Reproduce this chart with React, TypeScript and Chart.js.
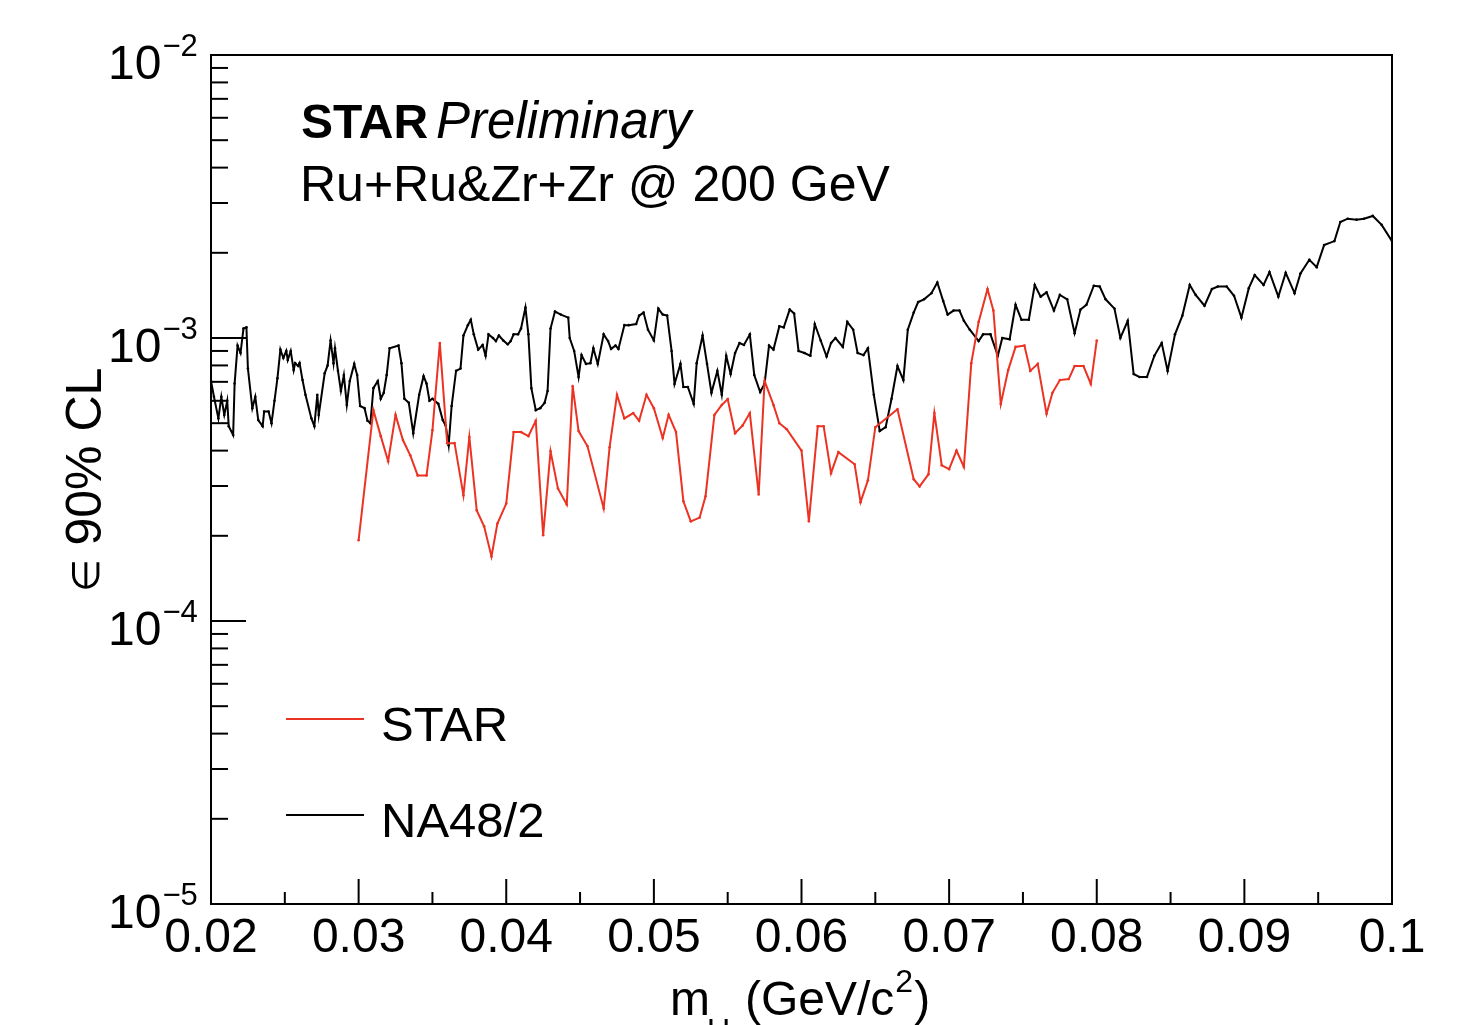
import React, { useEffect, useRef } from 'react';
import { Chart, registerables } from 'chart.js';

Chart.register(...registerables);

// ---------------- data ----------------
const na48Mass = [
  0.0200,0.0202,0.0205,0.0207,0.0209,0.0211,0.0212,0.0215,0.0216,0.0218,
  0.0220,0.0222,0.0224,0.0225,0.0228,0.0230,0.0232,0.0235,0.0236,0.0239,
  0.0241,0.0243,0.0245,0.0247,0.0249,0.0251,0.0252,0.0254,0.0256,0.0257,
  0.0259,0.0260,0.0262,0.0264,0.0268,0.0270,0.0272,0.0273,0.0277,0.0279,
  0.0281,0.0283,0.0284,0.0286,0.0288,0.0290,0.0292,0.0294,0.0297,0.0299,
  0.0301,0.0304,0.0306,0.0308,0.0310,0.0313,0.0315,0.0317,0.0319,0.0321,
  0.0327,0.0329,0.0331,0.0334,0.0337,0.0341,0.0344,0.0346,0.0348,0.0350,
  0.0354,0.0357,0.0359,0.0361,0.0363,0.0366,0.0369,0.0371,0.0374,0.0376,
  0.0378,0.0381,0.0384,0.0386,0.0388,0.0391,0.0393,0.0395,0.0398,0.0401,
  0.0403,0.0405,0.0408,0.0410,0.0413,0.0415,0.0417,0.0420,0.0423,0.0426,
  0.0428,0.0430,0.0433,0.0437,0.0442,0.0443,0.0446,0.0449,0.0451,0.0454,
  0.0457,0.0459,0.0462,0.0466,0.0469,0.0471,0.0474,0.0476,0.0480,0.0483,
  0.0488,0.0490,0.0493,0.0496,0.0500,0.0503,0.0506,0.0509,0.0512,0.0514,
  0.0518,0.0520,0.0523,0.0527,0.0529,0.0533,0.0536,0.0539,0.0543,0.0546,
  0.0549,0.0552,0.0555,0.0558,0.0561,0.0565,0.0568,0.0572,0.0575,0.0578,
  0.0581,0.0585,0.0588,0.0592,0.0595,0.0598,0.0602,0.0606,0.0609,0.0613,
  0.0617,0.0620,0.0623,0.0628,0.0631,0.0635,0.0638,0.0642,0.0645,0.0649,
  0.0653,0.0657,0.0661,0.0665,0.0669,0.0672,0.0676,0.0679,0.0683,0.0688,
  0.0692,0.0696,0.0699,0.0703,0.0707,0.0710,0.0714,0.0720,0.0723,0.0728,
  0.0733,0.0736,0.0741,0.0745,0.0749,0.0754,0.0758,0.0762,0.0766,0.0771,
  0.0775,0.0780,0.0785,0.0789,0.0793,0.0798,0.0802,0.0806,0.0812,0.0816,
  0.0821,0.0825,0.0829,0.0834,0.0839,0.0844,0.0848,0.0853,0.0858,0.0863,
  0.0867,0.0873,0.0878,0.0882,0.0888,0.0893,0.0898,0.0903,0.0907,0.0913,
  0.0917,0.0923,0.0928,0.0934,0.0938,0.0944,0.0949,0.0954,0.0961,0.0965,
  0.0970,0.0976,0.0981,0.0987,0.0993,0.1000,
];

const na48Eps = [
  0.705e-3,0.62e-3,0.52e-3,0.62e-3,0.535e-3,0.60e-3,0.488e-3,0.454e-3,0.69e-3,0.94e-3,
  0.885e-3,1.08e-3,1.09e-3,0.78e-3,0.565e-3,0.62e-3,0.513e-3,0.488e-3,0.55e-3,0.55e-3,
  0.50e-3,0.60e-3,0.72e-3,0.91e-3,0.85e-3,0.90e-3,0.836e-3,0.90e-3,0.77e-3,0.815e-3,
  0.796e-3,0.815e-3,0.71e-3,0.63e-3,0.52e-3,0.488e-3,0.63e-3,0.535e-3,0.75e-3,0.80e-3,
  0.98e-3,0.815e-3,0.92e-3,0.765e-3,0.65e-3,0.74e-3,0.58e-3,0.705e-3,0.81e-3,0.74e-3,
  0.575e-3,0.565e-3,0.51e-3,0.50e-3,0.665e-3,0.705e-3,0.61e-3,0.64e-3,0.74e-3,0.92e-3,
  0.94e-3,0.815e-3,0.61e-3,0.59e-3,0.461e-3,0.63e-3,0.733e-3,0.69e-3,0.60e-3,0.61e-3,
  0.585e-3,0.513e-3,0.49e-3,0.418e-3,0.575e-3,0.765e-3,0.78e-3,1.02e-3,1.11e-3,1.16e-3,
  1.03e-3,0.91e-3,0.945e-3,0.865e-3,1.03e-3,1.00e-3,0.975e-3,1.02e-3,0.98e-3,0.95e-3,
  0.975e-3,1.03e-3,1.03e-3,1.08e-3,1.28e-3,1.03e-3,0.665e-3,0.556e-3,0.565e-3,0.59e-3,
  0.65e-3,1.08e-3,1.24e-3,1.21e-3,1.18e-3,1.00e-3,0.90e-3,0.728e-3,0.87e-3,0.81e-3,
  0.815e-3,0.92e-3,0.81e-3,1.03e-3,0.975e-3,0.915e-3,0.94e-3,0.915e-3,1.11e-3,1.11e-3,
  1.12e-3,1.20e-3,1.23e-3,1.07e-3,0.98e-3,1.27e-3,1.21e-3,1.20e-3,0.90e-3,0.688e-3,
  0.81e-3,0.671e-3,0.671e-3,0.585e-3,0.815e-3,1.02e-3,0.81e-3,0.64e-3,0.765e-3,0.63e-3,
  0.865e-3,0.746e-3,0.885e-3,0.96e-3,0.945e-3,1.03e-3,0.74e-3,0.644e-3,0.69e-3,0.94e-3,
  0.91e-3,1.10e-3,1.09e-3,1.26e-3,1.22e-3,0.90e-3,0.885e-3,0.865e-3,1.12e-3,0.98e-3,
  0.86e-3,0.96e-3,1.00e-3,0.93e-3,1.14e-3,1.07e-3,0.885e-3,0.87e-3,0.92e-3,0.63e-3,
  0.469e-3,0.484e-3,0.61e-3,0.796e-3,0.71e-3,1.07e-3,1.23e-3,1.34e-3,1.37e-3,1.44e-3,
  1.57e-3,1.35e-3,1.21e-3,1.25e-3,1.25e-3,1.15e-3,1.07e-3,0.975e-3,1.03e-3,1.03e-3,
  0.865e-3,1.00e-3,0.99e-3,1.31e-3,1.16e-3,1.16e-3,1.54e-3,1.40e-3,1.45e-3,1.25e-3,
  1.42e-3,1.37e-3,1.04e-3,1.26e-3,1.31e-3,1.53e-3,1.52e-3,1.37e-3,1.27e-3,1.00e-3,
  1.15e-3,0.746e-3,0.728e-3,0.728e-3,0.865e-3,0.96e-3,0.765e-3,1.03e-3,1.20e-3,1.54e-3,
  1.42e-3,1.30e-3,1.49e-3,1.52e-3,1.52e-3,1.41e-3,1.18e-3,1.50e-3,1.67e-3,1.54e-3,
  1.71e-3,1.40e-3,1.70e-3,1.44e-3,1.69e-3,1.89e-3,1.78e-3,2.13e-3,2.20e-3,2.57e-3,
  2.64e-3,2.62e-3,2.64e-3,2.70e-3,2.51e-3,2.20e-3,
];

const starMass = [
  0.0300,0.0310,0.0315,0.0320,0.0325,0.0330,0.0335,0.0340,0.0346,0.0350,
  0.0355,0.0360,0.0365,0.0371,0.0375,0.0380,0.0385,0.0390,0.0394,0.0400,
  0.0405,0.0410,0.0415,0.0420,0.0425,0.0430,0.0435,0.0441,0.0445,0.0449,
  0.0455,0.0466,0.0470,0.0475,0.0480,0.0486,0.0490,0.0495,0.0500,0.0506,
  0.0510,0.0515,0.0520,0.0525,0.0531,0.0535,0.0541,0.0546,0.0550,0.0555,
  0.0560,0.0565,0.0571,0.0575,0.0581,0.0585,0.0590,0.0600,0.0605,0.0611,
  0.0615,0.0620,0.0625,0.0636,0.0640,0.0645,0.0650,0.0665,0.0676,0.0680,
  0.0686,0.0690,0.0695,0.0700,0.0705,0.0710,0.0715,0.0720,0.0726,0.0730,
  0.0735,0.0740,0.0745,0.0751,0.0755,0.0760,0.0766,0.0770,0.0775,0.0781,
  0.0785,0.0791,0.0796,0.0800,
];

const starEps = [
  0.193e-3,0.556e-3,0.45e-3,0.367e-3,0.535e-3,0.436e-3,0.385e-3,0.327e-3,0.327e-3,0.472e-3,
  0.96e-3,0.425e-3,0.425e-3,0.278e-3,0.447e-3,0.246e-3,0.216e-3,0.169e-3,0.221e-3,0.26e-3,
  0.465e-3,0.465e-3,0.45e-3,0.51e-3,0.201e-3,0.398e-3,0.294e-3,0.258e-3,0.676e-3,0.469e-3,
  0.415e-3,0.25e-3,0.411e-3,0.63e-3,0.52e-3,0.543e-3,0.51e-3,0.63e-3,0.565e-3,0.443e-3,
  0.535e-3,0.465e-3,0.265e-3,0.225e-3,0.232e-3,0.276e-3,0.535e-3,0.58e-3,0.608e-3,0.461e-3,
  0.49e-3,0.543e-3,0.28e-3,0.705e-3,0.58e-3,0.50e-3,0.476e-3,0.40e-3,0.225e-3,0.488e-3,
  0.488e-3,0.333e-3,0.395e-3,0.358e-3,0.263e-3,0.314e-3,0.484e-3,0.56e-3,0.317e-3,0.299e-3,
  0.33e-3,0.543e-3,0.355e-3,0.344e-3,0.40e-3,0.35e-3,0.815e-3,1.14e-3,1.49e-3,1.25e-3,
  0.585e-3,0.77e-3,0.93e-3,0.94e-3,0.765e-3,0.81e-3,0.54e-3,0.64e-3,0.71e-3,0.716e-3,
  0.796e-3,0.796e-3,0.688e-3,0.98e-3,
];

const xTickValues = [0.02, 0.03, 0.04, 0.05, 0.06, 0.07, 0.08, 0.09, 0.1];
const xTickLabels = ['0.02', '0.03', '0.04', '0.05', '0.06', '0.07', '0.08', '0.09', '0.1'];
const xMinorValues = [0.025, 0.035, 0.045, 0.055, 0.065, 0.075, 0.085, 0.095];
const yDecadeValues = [1e-2, 1e-3, 1e-4, 1e-5];
const yDecadeExponents = ['\u22122', '\u22123', '\u22124', '\u22125'];
const yMinorMultipliers = [2, 3, 4, 5, 6, 7, 8, 9];

const seriesLabels = ['STAR', 'NA48/2'];
const headerBold = 'STAR';
const headerItalic = 'Preliminary';
const headerLine2 = 'Ru+Ru&Zr+Zr @ 200 GeV';
const yTitleSymbol = '\u2208';
const yTitleRest = ' 90% CL';

const RED = '#ec3323';
const BLACK = '#000000';
const FONT = '"Liberation Sans", Arial, Helvetica, sans-serif';

const rootStyle = {
  id: 'rootStyle',
  afterDatasetsDraw(chart: any) {
    const { ctx, chartArea: a, scales } = chart;
    const x = scales.x;
    const y = scales.y;
    ctx.save();
    ctx.strokeStyle = BLACK;
    ctx.fillStyle = BLACK;
    ctx.lineWidth = 2;
    ctx.lineCap = 'butt';

    // frame
    ctx.strokeRect(a.left, a.top, a.right - a.left, a.bottom - a.top);

    const seg = (x1: number, y1: number, x2: number, y2: number) => {
      ctx.beginPath();
      ctx.moveTo(x1, y1);
      ctx.lineTo(x2, y2);
      ctx.stroke();
    };

    // x ticks (inward)
    xTickValues.forEach((v) => {
      const px = x.getPixelForValue(v);
      seg(px, a.bottom, px, a.bottom - 25);
    });
    xMinorValues.forEach((v) => {
      const px = x.getPixelForValue(v);
      seg(px, a.bottom, px, a.bottom - 12);
    });

    // y ticks (inward)
    yDecadeValues.forEach((v) => {
      const py = y.getPixelForValue(v);
      seg(a.left, py, a.left + 35, py);
    });
    for (let d = 1; d < yDecadeValues.length; d++) {
      const base = yDecadeValues[d];
      yMinorMultipliers.forEach((k) => {
        const py = y.getPixelForValue(base * k);
        seg(a.left, py, a.left + 17, py);
      });
    }

    // x tick labels
    ctx.font = `48px ${FONT}`;
    ctx.textAlign = 'center';
    ctx.textBaseline = 'alphabetic';
    xTickValues.forEach((v, i) => {
      ctx.fillText(xTickLabels[i], x.getPixelForValue(v), a.bottom + 48);
    });

    // y tick labels 10^n
    yDecadeValues.forEach((v, i) => {
      const py = y.getPixelForValue(v);
      ctx.font = `48px ${FONT}`;
      ctx.textAlign = 'left';
      ctx.fillText('10', 108, py + 24);
      const w = ctx.measureText('10').width;
      ctx.font = `31px ${FONT}`;
      ctx.fillText(yDecadeExponents[i], 108 + w + 1, py + 1);
    });

    // y axis title (rotated)
    ctx.save();
    ctx.translate(101, 0);
    ctx.rotate(-Math.PI / 2);
    ctx.textAlign = 'left';
    ctx.font = `38px ${FONT}`;
    const ws = ctx.measureText(yTitleSymbol).width;
    ctx.font = `50px ${FONT}`;
    const wr = ctx.measureText(yTitleRest).width;
    const start = -480 - (ws + wr) / 2;
    ctx.font = `38px ${FONT}`;
    ctx.fillText(yTitleSymbol, start, -2);
    ctx.font = `50px ${FONT}`;
    ctx.fillText(yTitleRest, start + ws, 0);
    ctx.restore();

    // x axis title: m_U (GeV/c^2)
    ctx.textAlign = 'left';
    ctx.font = `48px ${FONT}`;
    ctx.fillText('m', 670, 1015);
    ctx.font = `32px ${FONT}`;
    ctx.fillText('U', 707, 1041);
    ctx.font = `48px ${FONT}`;
    const t1 = '(GeV/c';
    ctx.fillText(t1, 745, 1015);
    const w1 = ctx.measureText(t1).width;
    ctx.font = `32px ${FONT}`;
    ctx.fillText('2', 745 + w1 + 1, 992);
    const w2 = ctx.measureText('2').width;
    ctx.font = `48px ${FONT}`;
    ctx.fillText(')', 745 + w1 + w2 + 2, 1015);

    // header text
    ctx.font = `bold 48px ${FONT}`;
    ctx.fillText(headerBold, 301, 138);
    const wb = ctx.measureText(headerBold).width;
    ctx.font = `italic 51px ${FONT}`;
    ctx.fillText(headerItalic, 301 + wb + 8, 138);
    ctx.font = `50px ${FONT}`;
    ctx.fillText(headerLine2, 300, 201);

    // legend
    const legendColors = [RED, BLACK];
    const legendY = [719, 815];
    seriesLabels.forEach((lab, i) => {
      ctx.strokeStyle = legendColors[i];
      ctx.lineWidth = 2;
      seg(286, legendY[i], 364, legendY[i]);
      ctx.fillStyle = BLACK;
      ctx.font = `49px ${FONT}`;
      ctx.fillText(lab, 381, legendY[i] + 22);
    });

    ctx.restore();
  },
};

export default function App() {
  const canvasRef = useRef<HTMLCanvasElement | null>(null);

  useEffect(() => {
    const canvas = canvasRef.current;
    if (!canvas) return;
    const starData = starMass.map((m, i) => ({ x: m, y: starEps[i] }));
    const naData = na48Mass.map((m, i) => ({ x: m, y: na48Eps[i] }));
    const chart = new Chart(canvas, {
      type: 'line',
      data: {
        datasets: [
          {
            label: seriesLabels[0],
            data: starData,
            borderColor: RED,
            backgroundColor: RED,
            borderWidth: 2,
            pointRadius: 1.3,
            pointBorderWidth: 0,
            pointBackgroundColor: RED,
            tension: 0,
            fill: false,
          },
          {
            label: seriesLabels[1],
            data: naData,
            borderColor: BLACK,
            backgroundColor: BLACK,
            borderWidth: 2,
            pointRadius: 1.3,
            pointBorderWidth: 0,
            pointBackgroundColor: BLACK,
            tension: 0,
            fill: false,
          },
        ],
      },
      options: {
        animation: false,
        responsive: false,
        devicePixelRatio: 1,
        layout: { padding: { left: 211, top: 55, right: 83, bottom: 121 } },
        scales: {
          x: { type: 'linear', min: 0.02, max: 0.1, display: false },
          y: { type: 'logarithmic', min: 1e-5, max: 1e-2, display: false },
        },
        plugins: {
          legend: { display: false },
          tooltip: { enabled: false },
          title: { display: false },
        },
      } as any,
      plugins: [rootStyle],
    });
    return () => chart.destroy();
  }, []);

  return (
    <div style={{ position: 'fixed', left: 0, top: 0, width: 1475, height: 1025, background: '#ffffff' }}>
      <canvas ref={canvasRef} width={1475} height={1025} style={{ display: 'block', width: 1475, height: 1025 }} />
    </div>
  );
}
